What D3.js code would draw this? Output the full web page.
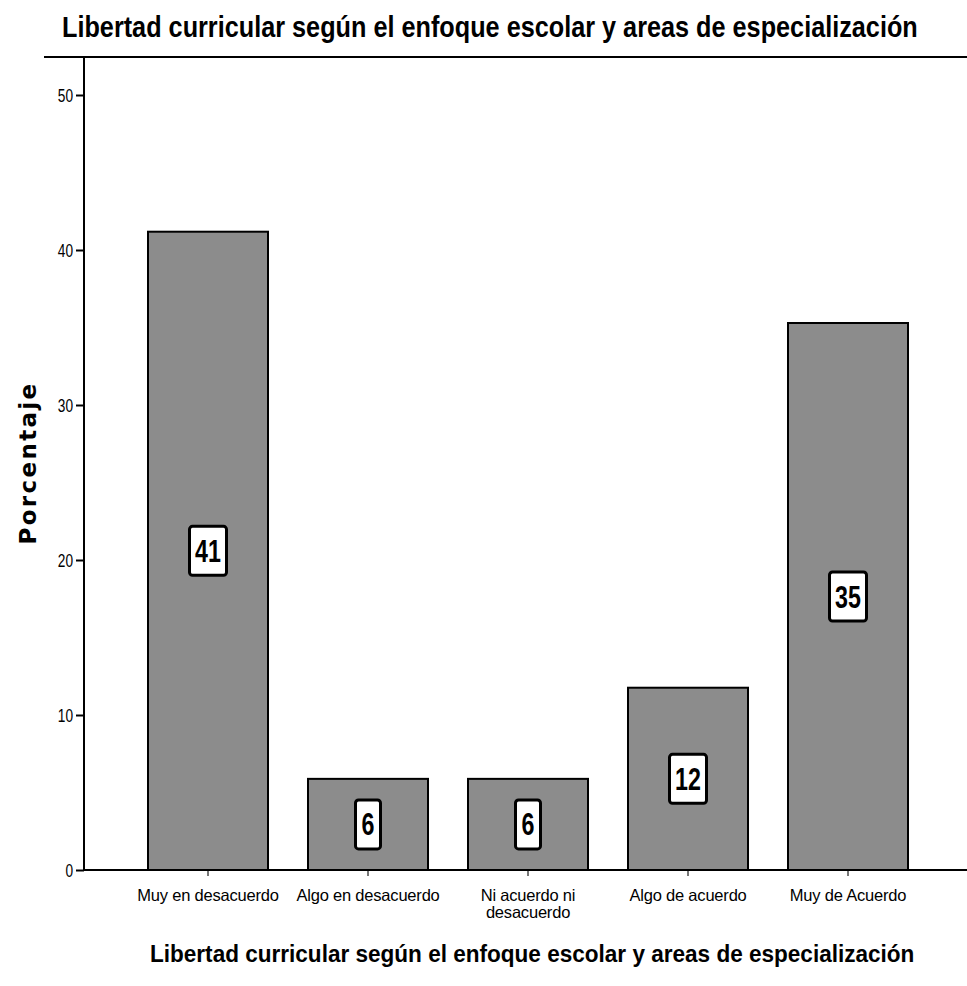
<!DOCTYPE html>
<html>
<head>
<meta charset="utf-8">
<script src="https://cdn.jsdelivr.net/npm/d3@7"></script>
<style>
  html, body { margin: 0; padding: 0; background: #fff; }
  svg { display: block; }
</style>
</head>
<body>
<svg id="chart" width="967" height="986"></svg>
<script>
// ---- data ----
const categories = [
  ["Muy en desacuerdo"],
  ["Algo en desacuerdo"],
  ["Ni acuerdo ni", "desacuerdo"],
  ["Algo de acuerdo"],
  ["Muy de Acuerdo"]
];
const percentages = [41.18, 5.88, 5.88, 11.76, 35.29];
const barLabels = ["41", "6", "6", "12", "35"];
const yTicks = [0, 10, 20, 30, 40, 50];
const titleText = "Libertad curricular según el enfoque escolar y areas de especialización";
const xTitleText = "Libertad curricular según el enfoque escolar y areas de especialización";
const yTitleText = "Porcentaje";

// ---- layout ----
const svg = d3.select("#chart");
const axisX = 84, axisBottom = 870, frameTop = 57;
const sans = "'Liberation Sans', Arial, sans-serif";

const x = d3.scaleBand()
  .domain(d3.range(categories.length))
  .range([128, 928])
  .paddingInner(0.25)
  .paddingOuter(0.125);

const y = d3.scaleLinear().domain([0, 50]).range([axisBottom, 95]);

// place a text horizontally condensed so that it spans targetW starting at x0
function condensed(sel, x0, y0, targetW) {
  const w = sel.node().getComputedTextLength();
  const s = Math.min(1, targetW / w);
  sel.attr("x", 0).attr("y", 0)
     .attr("transform", `translate(${x0},${y0}) scale(${s},1)`);
  return sel;
}

// title
const title = svg.append("text")
  .style("font-family", sans).style("font-weight", "bold")
  .style("font-size", "30px").attr("fill", "#000")
  .text(titleText);
condensed(title, 62, 37, 856);

// top frame line
svg.append("line")
  .attr("x1", 44).attr("x2", 967).attr("y1", frameTop).attr("y2", frameTop)
  .attr("stroke", "#000").attr("stroke-width", 2);

// bars
svg.append("g").selectAll("rect")
  .data(percentages)
  .join("rect")
  .attr("x", (d, i) => x(i))
  .attr("y", d => y(d))
  .attr("width", x.bandwidth())
  .attr("height", d => y(0) - y(d))
  .attr("fill", "#8c8c8c")
  .attr("stroke", "#000")
  .attr("stroke-width", 2);

// y axis
const yAxis = svg.append("g").attr("transform", `translate(${axisX},0)`)
  .call(d3.axisLeft(y).tickValues(yTicks).tickSize(8).tickPadding(3));
yAxis.select(".domain").remove();
yAxis.selectAll(".tick line").attr("stroke", "#000").attr("stroke-width", 2);
yAxis.selectAll(".tick text")
  .style("font-family", sans).style("font-size", "19px").attr("fill", "#000")
  .attr("transform", "translate(-11,0) scale(0.72,1)")
  .attr("x", 0);
svg.append("line")
  .attr("x1", axisX).attr("x2", axisX).attr("y1", frameTop).attr("y2", axisBottom)
  .attr("stroke", "#000").attr("stroke-width", 2);

// x axis
const xAxis = svg.append("g").attr("transform", `translate(0,${axisBottom})`)
  .call(d3.axisBottom(x).tickSize(6).tickFormat(""));
xAxis.select(".domain").remove();
xAxis.selectAll(".tick line").attr("stroke", "#777").attr("stroke-width", 2);
svg.append("line")
  .attr("x1", axisX).attr("x2", 967).attr("y1", axisBottom).attr("y2", axisBottom)
  .attr("stroke", "#000").attr("stroke-width", 2);

// x tick labels
const xl = svg.append("g");
categories.forEach((lines, i) => {
  const cx = x(i) + x.bandwidth() / 2;
  lines.forEach((ln, j) => {
    xl.append("text")
      .attr("x", cx)
      .attr("y", 901 + j * 17)
      .attr("text-anchor", "middle")
      .style("font-family", sans)
      .style("font-size", "16.5px").style("letter-spacing", "-0.2px")
      .attr("fill", "#000")
      .text(ln);
  });
});

// value label boxes
const lbl = svg.append("g");
percentages.forEach((d, i) => {
  const cx = x(i) + x.bandwidth() / 2;
  const cy = (y(d) + y(0)) / 2;
  const w = barLabels[i].length > 1 ? 37 : 25;
  const h = 49;
  lbl.append("rect")
    .attr("x", cx - w / 2).attr("y", cy - h / 2)
    .attr("width", w).attr("height", h)
    .attr("rx", 3).attr("ry", 3)
    .attr("fill", "#fff").attr("stroke", "#000").attr("stroke-width", 3);
  lbl.append("text")
    .attr("text-anchor", "middle")
    .attr("transform", `translate(${cx},${cy + 11}) scale(0.75,1)`)
    .style("font-family", sans).style("font-weight", "bold")
    .style("font-size", "31px").attr("fill", "#000")
    .text(barLabels[i]);
});

// x axis title
const xt = svg.append("text")
  .attr("x", 150).attr("y", 962)
  .style("font-family", sans).style("font-weight", "bold")
  .style("font-size", "23px").attr("fill", "#000")
  .text(xTitleText);
{
  const w = xt.node().getComputedTextLength();
  const n = xTitleText.length;
  if (w < 765) xt.style("letter-spacing", ((765 - w) / n) + "px");
  else condensed(xt, 150, 962, 765);
}

// y axis title
const yt = svg.append("text")
  .attr("transform", "translate(36,463) rotate(-90)")
  .attr("text-anchor", "middle")
  .style("font-family", "'DejaVu Sans', 'Liberation Sans', sans-serif").style("font-weight", "bold")
  .style("font-size", "23px").attr("fill", "#000")
  .text(yTitleText);
{
  const w = yt.node().getComputedTextLength();
  if (w < 163) yt.style("letter-spacing", ((163 - w) / yTitleText.length) + "px");
}
</script>
</body>
</html>
